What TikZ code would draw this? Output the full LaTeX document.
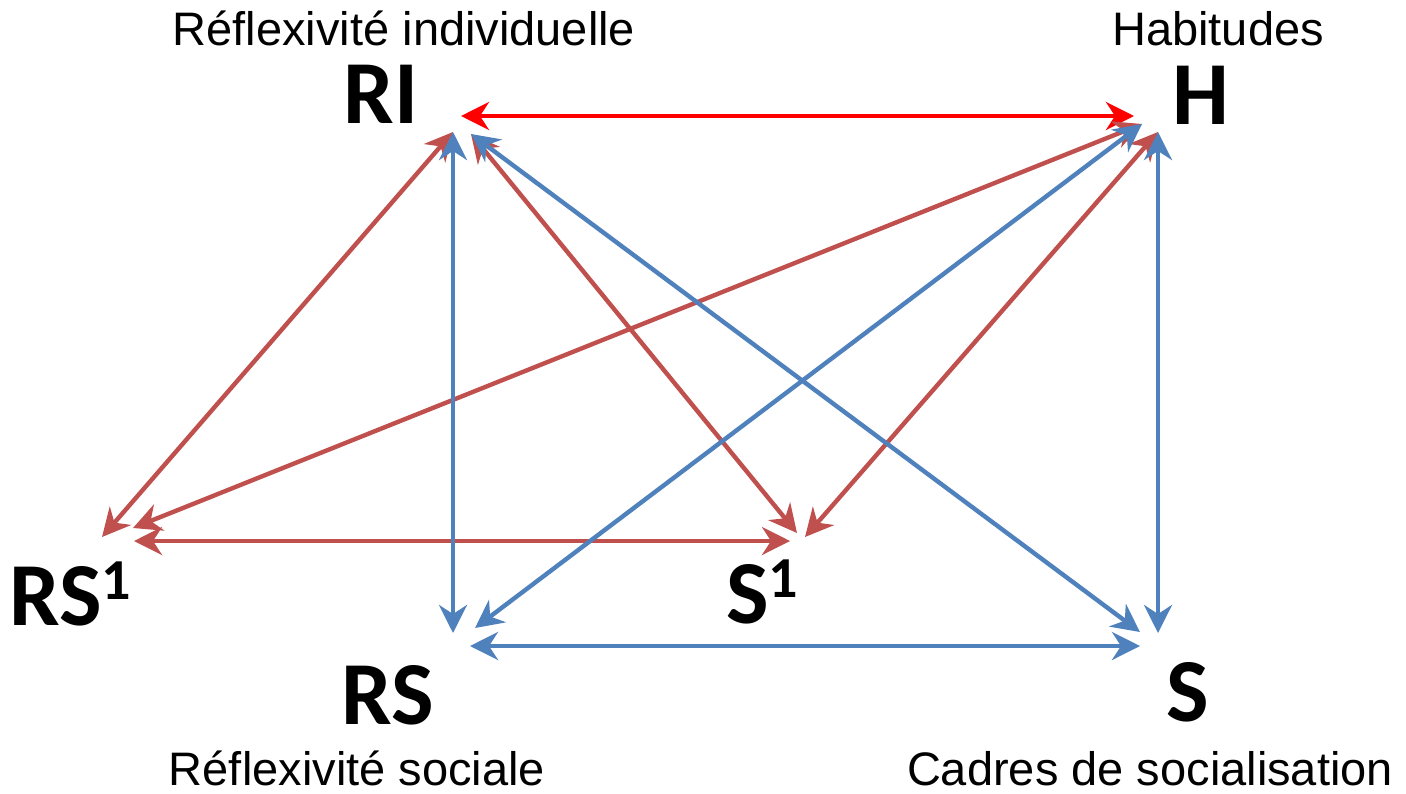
\documentclass[tikz,border=0pt]{standalone}
\usepackage{fontspec}
\setmainfont{Liberation Sans}
\newfontfamily\calibri{Carlito}
\usetikzlibrary{arrows.meta}
\definecolor{brick}{HTML}{C0504D}
\definecolor{steel}{HTML}{4F81BD}
\definecolor{pure}{HTML}{FF0000}
\newcommand{\polefont}{\calibri\bfseries\fontsize{45}{45}\selectfont}
\newcommand{\expo}[1]{\raisebox{13pt}{\fontsize{29}{29}\selectfont #1}}

\begin{document}
\begin{tikzpicture}[x=0.5pt,y=-0.5pt,
        >={Stealth[length=14pt,width=14pt,inset=4.5pt]},
        every node/.style={inner sep=0pt},
        pole/.style={font=\polefont,anchor=base},
        caption/.style={font=\fontsize{23.5}{23.5}\selectfont,anchor=base},
        link/.style={line width=2.2pt,<->}
    ]
    \useasboundingbox (0,0) rectangle (1406,793);

    % poles and their captions
    \node[caption] (capRI) at (404,45) {Réflexivité individuelle};
    \node[caption] (capH) at (1218,45) {Habitudes};
    \node[caption] (capRS) at (357,785) {Réflexivité sociale};
    \node[caption] (capS) at (1150,785) {Cadres de socialisation};
    \node[pole] (RI) at (381,123) {RI};
    \node[pole] (H) at (1201,124) {H};
    \node[pole] (RS) at (388,724) {RS};
    \node[pole] (S) at (1188,721) {S};
    \node[pole,anchor=base west] (RSa) at (9,625) {RS\expo{1}};
    \node[pole,anchor=base west] (Sa) at (726,623) {S\expo{1}};

    % arrow ends
    \coordinate (ri-e) at (461,116);
    \coordinate (ri-s) at (453,132);
    \coordinate (ri-se) at (471,134);
    \coordinate (h-w) at (1134,116);
    \coordinate (h-sw) at (1142,124);
    \coordinate (h-s) at (1158,132);
    \coordinate (rsa-n) at (102,537);
    \coordinate (rsa-ne) at (133,528);
    \coordinate (rsa-e) at (134,541);
    \coordinate (sa-w) at (790,541);
    \coordinate (sa-n) at (797,533);
    \coordinate (sa-ne) at (805,537);
    \coordinate (rs-n) at (453,633);
    \coordinate (rs-ne) at (475,628);
    \coordinate (rs-e) at (470,646);
    \coordinate (s-nw) at (1140,632);
    \coordinate (s-n) at (1158,633);
    \coordinate (s-w) at (1140,646);

    % red links
    \draw[link,pure] (ri-e) -- (h-w);
    \draw[link,brick] (ri-s) -- (rsa-n);
    \draw[link,brick] (ri-se) -- (sa-n);
    \draw[link,brick] (h-sw) -- (rsa-ne);
    \draw[link,brick] (h-s) -- (sa-ne);
    \draw[link,brick] (rsa-e) -- (sa-w);
    % blue links
    \draw[link,steel] (ri-s) -- (rs-n);
    \draw[link,steel] (ri-se) -- (s-nw);
    \draw[link,steel] (h-sw) -- (rs-ne);
    \draw[link,steel] (h-s) -- (s-n);
    \draw[link,steel] (rs-e) -- (s-w);
\end{tikzpicture}
\end{document}
